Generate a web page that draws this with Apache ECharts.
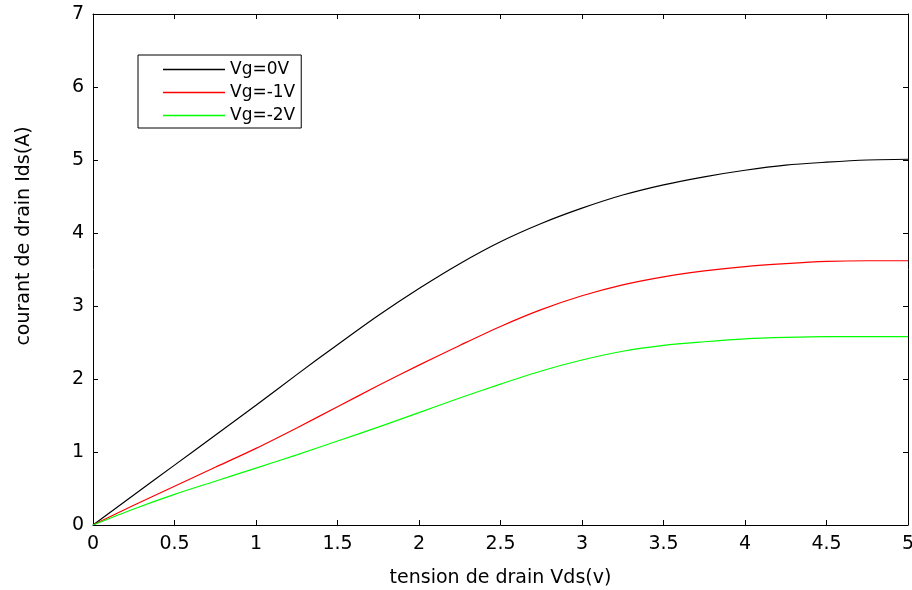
<!DOCTYPE html>
<html><head><meta charset="utf-8">
<script src="https://cdn.jsdelivr.net/npm/echarts@6/dist/echarts.min.js"></script>
<style>html,body{margin:0;padding:0;background:#fff}#c{width:912px;height:590px}</style>
</head><body><div id="c"></div>
<script>
var vds = [0,0.25,0.5,0.75,1,1.25,1.5,1.75,2,2.25,2.5,2.75,3,3.25,3.5,3.75,4,4.25,4.5,4.75,5];
var ids_vg0  = [0,0.41,0.82,1.23,1.64,2.06,2.47,2.87,3.24,3.58,3.88,4.13,4.34,4.52,4.66,4.77,4.86,4.93,4.97,5.0,5.01];
var ids_vg1  = [0,0.27,0.53,0.79,1.05,1.33,1.62,1.91,2.19,2.46,2.72,2.95,3.14,3.29,3.4,3.48,3.54,3.58,3.61,3.62,3.62];
var ids_vg2  = [0,0.22,0.42,0.6,0.78,0.96,1.15,1.34,1.54,1.74,1.93,2.11,2.26,2.38,2.46,2.51,2.55,2.57,2.58,2.58,2.58];
var seriesNames = ['Vg=0V','Vg=-1V','Vg=-2V'];
var seriesColors = ['#000000','#ff0000','#00ff00'];
var xTitle = 'tension de drain Vds(v)';
var yTitle = 'courant de drain Ids(A)';

function pairs(y){ return vds.map(function(x,i){return [x,y[i]];}); }
var font = 'DejaVu Sans, Verdana, sans-serif';
var tickStyle = {inside:true, length:5, lineStyle:{color:'#000'}};
var lineStyle = {color:'#000', width:1};

var chart = echarts.init(document.getElementById('c'), null, {renderer:'canvas'});
chart.setOption({
  animation:false,
  backgroundColor:'#fff',
  color:seriesColors,
  grid:{left:93, right:4, top:14, bottom:65, containLabel:false, outerBoundsMode:'none'},
  legend:{
    orient:'vertical', left:138, top:55,
    data:seriesNames.map(function(n,i){
      return {name:n, icon:'rect', itemStyle:{color:seriesColors[i], borderWidth:0}};
    }),
    itemWidth:62, itemHeight:1.5, itemGap:6,
    borderColor:'#000', borderWidth:1, padding:[6,6,4,25],
    textStyle:{fontFamily:font, fontSize:17, color:'#000'}
  },
  xAxis:[
    {type:'value', min:0, max:5, interval:0.5, position:'bottom',
     axisLine:{onZero:false, lineStyle:lineStyle}, axisTick:tickStyle, splitLine:{show:false},
     axisLabel:{fontFamily:font, fontSize:19, color:'#000', margin:10},
     name:xTitle, nameLocation:'middle', nameGap:44,
     nameTextStyle:{fontFamily:font, fontSize:19, color:'#000'}},
    {type:'value', min:0, max:5, interval:0.5, position:'top',
     axisLine:{onZero:false, lineStyle:lineStyle}, axisTick:tickStyle, axisLabel:{show:false}, splitLine:{show:false}}
  ],
  yAxis:[
    {type:'value', min:0, max:7, interval:1, position:'left',
     axisLine:{show:true, onZero:false, lineStyle:lineStyle}, axisTick:tickStyle, splitLine:{show:false},
     axisLabel:{fontFamily:font, fontSize:19, color:'#000', margin:9}},
    {type:'value', min:0, max:7, interval:1, position:'right',
     axisLine:{show:true, onZero:false, lineStyle:lineStyle}, axisTick:tickStyle, axisLabel:{show:false}, splitLine:{show:false}}
  ],
  graphic:[{
    type:'text', x:24, y:236, rotation:Math.PI/2,
    style:{text:yTitle, fontFamily:font, fontSize:19, fill:'#000', textAlign:'center', textVerticalAlign:'middle'}
  }],
  series:[ids_vg0, ids_vg1, ids_vg2].map(function(d,i){
    return {name:seriesNames[i], type:'line', data:pairs(d), smooth:0.3, symbol:'none',
      lineStyle:{color:seriesColors[i], width:1.2}, itemStyle:{color:seriesColors[i]}};
  })
});
</script></body></html>
